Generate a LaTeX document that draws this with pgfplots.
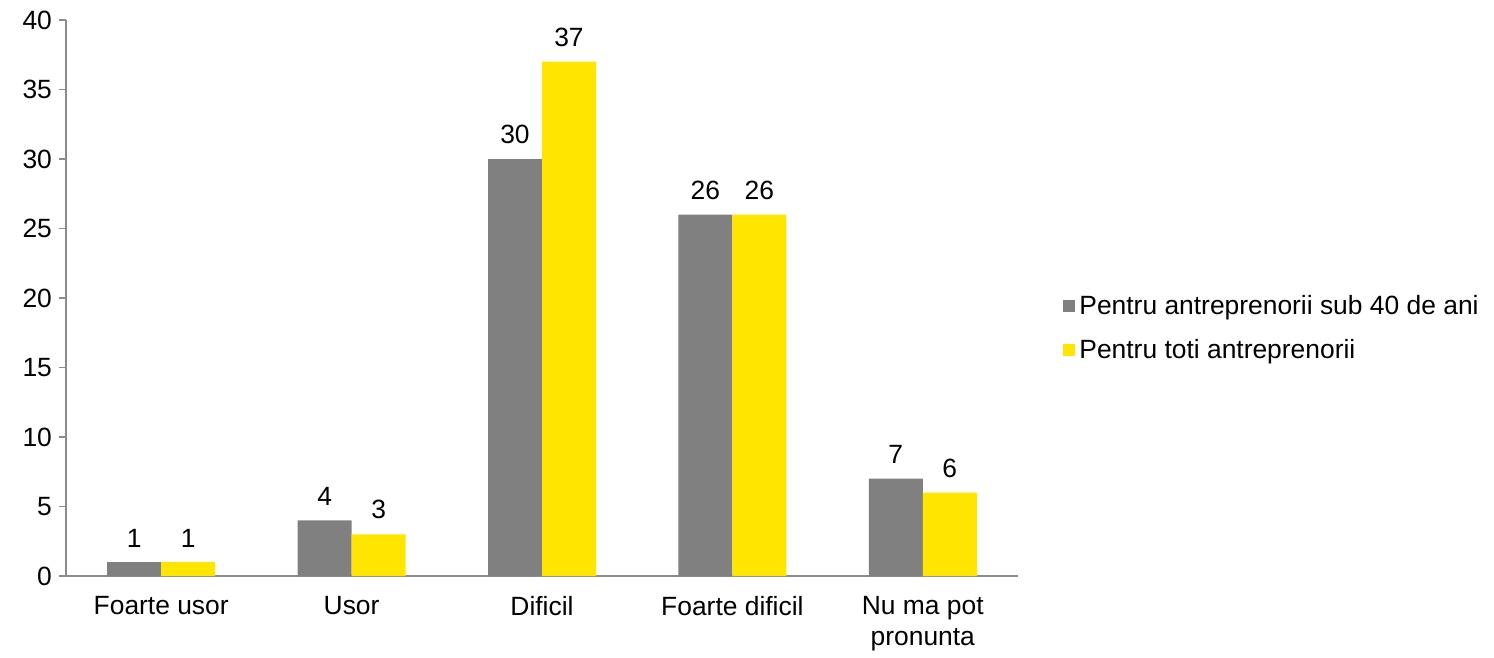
\documentclass[border=0pt]{standalone}
\usepackage{fontspec}
\setmainfont{Liberation Sans}
\usepackage{pgfplots}
\pgfplotsset{compat=1.18}
\definecolor{bargray}{HTML}{808080}
\definecolor{baryellow}{HTML}{FFE500}
\definecolor{axgray}{HTML}{8C8C8C}
\begin{document}
\begin{tikzpicture}[font=\fontsize{13.2}{15.5}\selectfont]
\begin{axis}[
    name=ax,
    scale only axis,
    width=476pt, height=278pt,
    ybar=0pt,
    bar width=27pt,
    xmin=-0.5, xmax=4.5,
    ymin=0, ymax=40,
    ytick={0,5,...,40},
    xtick={0,1,2,3,4},
    xticklabels={Foarte usor,Usor,Dificil,Foarte dificil,{Nu ma pot\\pronunta}},
    xticklabel style={align=center, yshift=-3pt},
    x tick style={draw=none},
    extra x ticks={-0.5,0.5,1.5,2.5,3.5,4.5},
    extra x tick labels={},
    extra x tick style={tick style={draw=axgray, line width=0.6pt}, major tick length=3.5pt},
    tick align=outside,
    y tick style={draw=axgray, line width=0.6pt},
    major tick length=3.5pt,
    axis x line*=bottom,
    axis y line*=left,
    axis line style={draw=axgray, line width=0.6pt, -},
    /pgf/number format/assume math mode=true,
    nodes near coords,
    nodes near coords style={font=\fontsize{13.2}{15.5}\selectfont, text=black, yshift=4pt},
    legend style={draw=none, fill=none, at={(rel axis cs:1.041,0.446)}, anchor=west,
        legend cell align=left, row sep=7pt, font=\fontsize{13.2}{15.5}\selectfont},
    legend image code/.code={\fill[#1] (0pt,-3pt) rectangle (6pt,3pt);},
]
\addplot[fill=bargray, draw=none] coordinates {(0,1) (1,4) (2,30) (3,26) (4,7)};
\addplot[fill=baryellow, draw=none] coordinates {(0,1) (1,3) (2,37) (3,26) (4,6)};
\legend{Pentru antreprenorii sub 40 de ani, Pentru toti antreprenorii}
\end{axis}
\path (ax.south west) +(-33pt,-38.5pt) rectangle +(714pt,288pt);
\end{tikzpicture}
\end{document}
